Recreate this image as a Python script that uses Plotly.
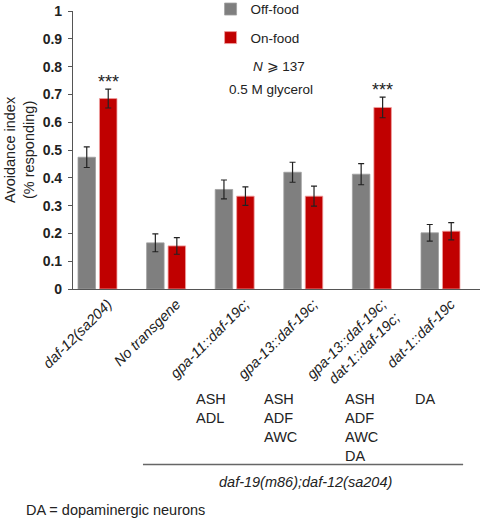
import plotly.graph_objects as go

categories = ["<i>daf-12(sa204)</i>", "<i>No transgene</i>", "<i>gpa-11::daf-19c;</i>",
              "<i>gpa-13::daf-19c;</i>", "<i>gpa-13::daf-19c;</i><br><i>dat-1::daf-19c;</i>",
              "<i>dat-1::daf-19c</i>"]
off_food = [0.474, 0.166, 0.358, 0.420, 0.413, 0.202]
off_err = [0.037, 0.032, 0.034, 0.036, 0.038, 0.030]
on_food = [0.685, 0.155, 0.334, 0.334, 0.653, 0.208]
on_err = [0.034, 0.030, 0.033, 0.036, 0.037, 0.031]
neurons = ["", "", "ASH<br>ADL", "ASH<br>ADF<br>AWC", "ASH<br>ADF<br>AWC<br>DA", "DA"]
signif = ["***", "", "", "", "***", ""]
y_ticks = [0, 0.1, 0.2, 0.3, 0.4, 0.5, 0.6, 0.7, 0.8, 0.9, 1]
y_tick_text = ["0", "0.1", "0.2", "0.3", "0.4", "0.5", "0.6", "0.7", "0.8", "0.9", "1"]

# layout helpers (positions in axis units, not data)
neuron_label_x = [None, None, 1.405, 2.395, 3.58, 4.60]
tick_shift = 0.15

xs = list(range(len(categories)))
FONT = "Liberation Sans, Arial, sans-serif"
GRAY = "#7f7f7f"
RED = "#c00000"
TXT = "#222"

fig = go.Figure()
fig.add_trace(go.Bar(
    x=xs, y=off_food, name="Off-food", legendgroup="a",
    marker=dict(color=GRAY, line=dict(color="#a0a0a0", width=0.8)),
    error_y=dict(type="data", array=off_err, color="#222", thickness=1.2, width=3),
))
fig.add_trace(go.Bar(
    x=xs, y=on_food, name="On-food", legendgroup="b",
    marker=dict(color=RED, line=dict(color="#f0a0a0", width=0.8)),
    error_y=dict(type="data", array=on_err, color="#222", thickness=1.2, width=3),
))

annotations = []
for i, s in enumerate(signif):
    if s:
        annotations.append(dict(x=i + 0.157, y=on_food[i] + on_err[i], xref="x", yref="y",
                                text=s, showarrow=False, yanchor="bottom", yshift=-5,
                                font=dict(size=18, family=FONT, color=TXT)))
for i, t in enumerate(neurons):
    if t:
        annotations.append(dict(x=neuron_label_x[i], y=-0.36, xref="x", yref="paper", text=t,
                                showarrow=False, xanchor="left", yanchor="top", align="left",
                                font=dict(size=14.5, family=FONT, color=TXT)))
annotations += [
    dict(x=3.03, y=-0.694, xref="x", yref="paper", text="<i>daf-19(m86);daf-12(sa204)</i>",
         showarrow=False, xanchor="center", yanchor="middle",
         font=dict(size=14.5, family=FONT, color=TXT)),
    dict(x=0, y=-0.795, xref="paper", yref="paper", xshift=-49, text="DA = dopaminergic neurons",
         showarrow=False, xanchor="left", yanchor="middle",
         font=dict(size=14.5, family=FONT, color=TXT)),
    dict(x=2.65, y=0.802, xref="x", yref="paper", text="<i>N</i> ⩾ 137",
         showarrow=False, xanchor="center", yanchor="middle",
         font=dict(size=13.5, family=FONT, color=TXT)),
    dict(x=2.53, y=0.716, xref="x", yref="paper", text="0.5 M glycerol",
         showarrow=False, xanchor="center", yanchor="middle",
         font=dict(size=13.5, family=FONT, color=TXT)),
    dict(x=0, y=0.5, xref="paper", yref="paper", xshift=-54, textangle=-90,
         xanchor="center", yanchor="middle",
         text="Avoidance index<br>(% responding)", showarrow=False,
         font=dict(size=14.5, family=FONT, color=TXT)),
]

fig.update_layout(
    width=480, height=518,
    margin=dict(l=73, r=0, t=11, b=229, autoexpand=False),
    paper_bgcolor="white", plot_bgcolor="white",
    barmode="group", bargap=0.374, bargroupgap=0.185,
    font=dict(family=FONT, color=TXT),
    showlegend=True,
    legend=dict(x=0.338, y=1.062, xanchor="left", yanchor="top", bgcolor="rgba(0,0,0,0)",
                font=dict(size=13.5, family=FONT), tracegroupgap=8, itemclick=False),
    annotations=annotations,
    shapes=[dict(type="line", xref="x", yref="paper", x0=0.663, x1=5.33, y0=-0.631, y1=-0.631,
                 line=dict(color="#666", width=1.5))],
)
fig.update_xaxes(range=[-0.357, 5.576], tickvals=[x + tick_shift for x in xs],
                 ticktext=categories, tickangle=-45,
                 showline=True, linecolor="#555", linewidth=1.2, ticks="",
                 tickfont=dict(size=14.5, family=FONT, color=TXT), showgrid=False, zeroline=False)
fig.update_yaxes(range=[0, 1], tickvals=y_ticks, ticktext=y_tick_text, showline=True,
                 linecolor="#555", linewidth=1.2, ticks="outside", ticklen=4, tickcolor="#555",
                 ticklabelstandoff=3,
                 tickfont=dict(size=14, family=FONT, color=TXT, weight="bold"),
                 showgrid=False, zeroline=False)

# remove the default 8px page margin so the figure sits at the window's top-left corner
fig.write_html("out.html", config={"displayModeBar": False},
               post_script="document.body.style.margin='0';")
